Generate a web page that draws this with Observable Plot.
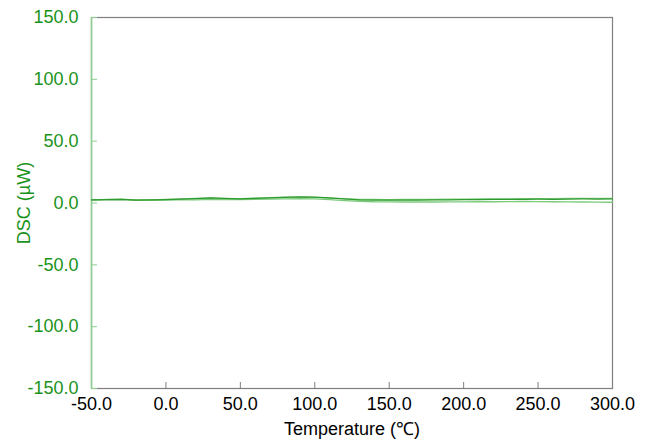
<!DOCTYPE html>
<html>
<head>
<meta charset="utf-8">
<script src="https://cdn.jsdelivr.net/npm/d3@7"></script>
<script src="https://cdn.jsdelivr.net/npm/@observablehq/plot@0.6"></script>
<style>
  html, body { margin: 0; padding: 0; background: #fff; }
  svg { font-family: "Liberation Sans", Arial, sans-serif; }
</style>
</head>
<body>
<div id="chart"></div>
<script>
// Temperature (°C) sample points
const temps = [-50,-40,-30,-20,-10,0,10,20,30,40,50,60,70,80,90,100,110,120,130,140,150,160,170,180,190,200,210,220,230,240,250,260,270,280,290,300];
// DSC series (µW)
const run1 = [2.5,2.8,3.0,2.4,2.5,2.8,3.2,3.6,4.2,3.7,3.4,3.8,4.2,4.6,4.9,4.7,4.1,3.3,2.6,2.4,2.3,2.4,2.4,2.5,2.6,2.7,2.8,3.0,2.9,3.0,3.1,3.0,3.2,3.3,3.2,3.3];
const run2 = [2.4,2.6,2.7,2.2,2.2,2.4,2.5,2.6,2.9,2.8,2.8,3.0,3.2,3.4,3.5,3.3,2.8,2.0,1.4,1.0,0.9,0.8,0.8,0.8,0.9,0.9,1.0,1.0,1.1,1.2,1.1,1.0,0.9,0.8,0.7,0.6];
const run3 = [2.6,2.9,3.1,2.6,2.6,3.0,3.3,3.7,4.0,3.6,3.5,3.9,4.3,4.7,4.8,4.5,3.9,3.4,3.0,2.9,2.8,2.9,3.0,3.0,3.1,3.2,3.3,3.4,3.4,3.5,3.6,3.6,3.7,3.7,3.8,3.8];
const xTicks = [-50,0,50,100,150,200,250,300];
const yTicks = [-150,-100,-50,0,50,100,150];

const series = [
  {name: "run2", values: run2, color: "#7ccb7c", width: 1.3},
  {name: "run3", values: run3, color: "#7ccb7c", width: 1.3},
  {name: "run1", values: run1, color: "#2f9a2f", width: 1.2}
];

const W = 645, H = 442;
const mL = 91, mR = 33, mT = 17, mB = 54;
const green = "#1a931a";

const lineMarks = series.map(s => Plot.line(temps.map((t, i) => ({t, v: s.values[i]})), {
  x: "t", y: "v", stroke: s.color, strokeWidth: s.width
}));

const chart = Plot.plot({
  width: W, height: H,
  marginLeft: mL, marginRight: mR, marginTop: mT, marginBottom: mB,
  style: {fontSize: "18px", fontFamily: "'Liberation Sans', Arial, sans-serif", background: "#fff"},
  x: {domain: [-50, 300]},
  y: {domain: [-150, 150]},
  marks: [
    Plot.frame({stroke: "#7f7f7f", strokeWidth: 1.2}),
    Plot.ruleX(xTicks, {stroke: "#7f7f7f", insetTop: H - mT - mB - 6}),
    Plot.ruleY(yTicks, {stroke: "#8fcf8f", insetRight: W - mL - mR - 6}),
    Plot.ruleX([-50], {stroke: "#8fcf8f", strokeWidth: 1.5}),
    Plot.axisX({ticks: xTicks, tickSize: 0, tickPadding: 9, tickFormat: d => d.toFixed(1), color: "#000",
      label: "Temperature (℃)", labelAnchor: "center", labelOffset: 46, labelArrow: "none"}),
    Plot.axisY({ticks: yTicks, tickSize: 0, tickPadding: 13, tickFormat: d => d.toFixed(1), color: green,
      label: "DSC (µW)", labelAnchor: "center", labelOffset: 74, labelArrow: "none"}),
    ...lineMarks
  ]
});
document.getElementById("chart").appendChild(chart);
</script>
</body>
</html>
